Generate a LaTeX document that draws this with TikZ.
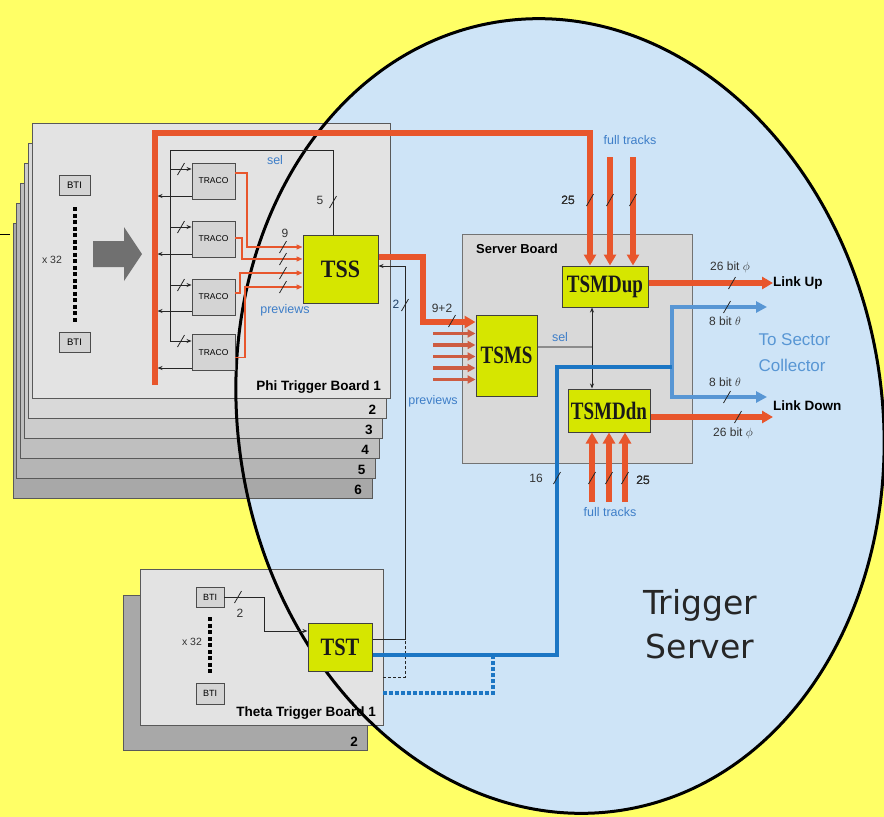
\documentclass[tikz,border=0pt]{standalone}
\usepackage{fontspec}
\setmainfont{Liberation Sans}
\newfontfamily\chipfont{Liberation Serif}
\newfontfamily\titlefont{DejaVu Sans}
\usetikzlibrary{arrows.meta,calc}
\definecolor{bgyellow}{RGB}{255,255,102}
\definecolor{srvblue}{RGB}{206,228,247}
\definecolor{trigred}{RGB}{232,86,44}
\definecolor{prevred}{RGB}{205,92,66}
\definecolor{thetablue}{RGB}{28,118,196}
\definecolor{linkblue}{RGB}{88,150,212}
\definecolor{lblblue}{RGB}{62,126,200}
\definecolor{chipgreen}{RGB}{214,230,0}
\definecolor{boardgray}{RGB}{227,227,227}
\tikzset{
  boardbox/.style={draw=black!65, line width=0.9pt},
  chip/.style={draw=black!75, line width=1pt, fill=chipgreen, inner sep=0pt, text=black!90,
    font=\chipfont\bfseries\fontsize{25}{25}\selectfont},
  minibox/.style={draw=black!70, line width=0.9pt, fill=black!17, inner sep=0pt,
    font=\fontsize{8.5}{8.5}\selectfont},
  redbus/.style={trigred, line width=5.5pt},
  redarrow/.style={redbus, -{Triangle[length=11pt,width=12pt]}},
  prevarrow/.style={trigred, line width=1.3pt, -{Triangle[length=6pt,width=5pt]}},
  prevthick/.style={prevred, line width=3.5pt, -{Triangle[length=8pt,width=8pt]}},
  sigline/.style={black!85, line width=0.9pt},
  sigarrow/.style={sigline, -{Stealth[length=5pt,width=4pt]}},
  bluebus/.style={thetablue, line width=4pt},
  bluearrow/.style={linkblue, line width=4pt, -{Triangle[length=11pt,width=11pt]}},
  numlbl/.style={text=black!80, font=\fontsize{12}{12}\selectfont, inner sep=0pt},
  bluelbl/.style={text=lblblue, font=\fontsize{12.5}{12.5}\selectfont, inner sep=0pt},
  boardlbl/.style={font=\bfseries\fontsize{13.5}{13.5}\selectfont, inner sep=0pt},
  btidots/.style={line width=4pt, dash pattern=on 4pt off 2.5pt},
}
\newcommand{\bwtick}[1]{\draw[black!85, line width=0.8pt] #1 ++(-3.5,6) -- ++(7,-12);}

\begin{document}
\begin{tikzpicture}[x=1pt,y=-1pt]
  \useasboundingbox (0,0) rectangle (884,817);
  \fill[bgyellow] (0,0) rectangle (884,817);
  \fill[srvblue, rotate around={9:(560,416)}] (560,416) ellipse [x radius=322, y radius=399];
  \draw[line width=0.8pt] (0,234) -- (10,234);

  % phi trigger boards
  \foreach \k/\shade in {6/34,5/29,4/25,3/20,2/15}{
    \draw[boardbox, fill=black!\shade] ({32-3.8*(\k-1)},{123+20*(\k-1)}) rectangle ({390-3.6*(\k-1)},{398+20*(\k-1)});
    \node[boardlbl, anchor=east] (phinum\k) at ({380-3.6*(\k-1)},{390+20*(\k-1)}) {\k};
  }
  \draw[boardbox, fill=boardgray] (32,123) rectangle (390,398);
  \node[boardlbl, anchor=east] (phiname) at (381,387) {Phi Trigger Board 1};

  % theta trigger boards
  \draw[boardbox, fill=black!34] (123,595) rectangle (367,750);
  \node[boardlbl, anchor=east] (thetanum2) at (358,742) {2};
  \draw[boardbox, fill=boardgray] (140,569) rectangle (383,725);
  \node[boardlbl, anchor=east] (thetaname) at (376,713) {Theta Trigger Board 1};

  \draw[line width=3pt, rotate around={9:(560,416)}] (560,416) ellipse [x radius=322, y radius=399];

  \node[draw=black!55, line width=0.9pt, fill=black!15, minimum width=230pt, minimum height=229pt] (server) at (577,348.5) {};
  \node[font=\bfseries\fontsize{13}{13}\selectfont, anchor=west, inner sep=0pt] (servername) at (476,249) {Server Board};

  % BTIs on the phi board
  \node[minibox, minimum width=31pt, minimum height=20pt, font=\fontsize{9.5}{9.5}\selectfont] (btiA) at (74.5,185) {BTI};
  \node[minibox, minimum width=31pt, minimum height=20pt, font=\fontsize{9.5}{9.5}\selectfont] (btiB) at (74.5,342) {BTI};
  \draw[btidots] ([yshift=-12pt]btiA.south) -- ([yshift=10pt]btiB.north);
  \node[numlbl, font=\fontsize{10.5}{10.5}\selectfont] (xA) at (52,260) {x 32};
  \fill[black!56] (93,241) -- (124,241) -- (124,227) -- (142,254) -- (124,281) -- (124,267) -- (93,267) -- cycle;

  \foreach \i/\yy in {1/181,2/239,3/297,4/352.5}
    \node[minibox, minimum width=43pt, minimum height=36pt] (traco\i) at (213.5,\yy) {TRACO};

  \node[chip, minimum width=75pt, minimum height=68pt] (tss) at (340.5,269) {\scalebox{0.88}[1]{TSS}};
  \node[chip, minimum width=61pt, minimum height=81pt] (tsms) at (506.5,355.5) {\scalebox{0.76}[1]{TSMS}};
  \node[chip, minimum width=86pt, minimum height=41pt] (tsmdup) at (605,286.5) {\scalebox{0.76}[1]{TSMDup}};
  \node[chip, minimum width=82pt, minimum height=43pt] (tsmddn) at (609,410.5) {\scalebox{0.76}[1]{TSMDdn}};

  % selection lines to the TRACOs
  \coordinate (selTop) at (170,150);
  \coordinate (selBot) at (170,341);
  \coordinate (busTop) at (155,133);
  \coordinate (busBot) at (155,385);
  \draw[sigline] ([xshift=-7.5pt]tss.north) |- (selTop) -- (selBot);
  \bwtick{(333,202)}
  \node[numlbl] (selwidth) at (320,200) {5};
  \node[bluelbl] (selA) at (275,160) {sel};
  \foreach \i/\ya/\yb in {1/169/196,2/227/254,3/285/311,4/341/368}{
    \draw[sigarrow] (selTop |- 0,\ya) -- (traco\i.west |- 0,\ya);
    \bwtick{(181,\ya)}
    \draw[sigarrow, shorten >=2.5pt] (traco\i.west |- 0,\yb) -- (busTop |- 0,\yb);
  }

  % previews to the TSS
  \foreach \i/\dy/\cx/\ty in {1/8/247/247,2/1/242/259,3/4/240/273,4/-5/245/287}{
    \draw[prevarrow] ([yshift=\dy pt]traco\i.east) -| (\cx,\ty) -- (tss.west |- 0,\ty);
    \bwtick{(283,\ty)}
  }
  \node[numlbl] (prevwidth) at (285,233) {9};
  \node[bluelbl] (prevA) at (285,310) {previews};

  % full tracks up
  \coordinate (ftUa) at (590,157);
  \coordinate (ftUb) at (610,157);
  \coordinate (ftUc) at (633,157);
  \draw[redarrow] (busBot) -- (busTop) -| (ftUa |- tsmdup.north);
  \draw[redarrow] (ftUb) -- (ftUb |- tsmdup.north);
  \draw[redarrow] (ftUc) -- (ftUc |- tsmdup.north);
  \foreach \xx in {590,610,633} \bwtick{(\xx,200)}
  \node[numlbl] (ftUwidth) at (568,200) {25};
  \node[bluelbl] (ftUname) at (630,140) {full tracks};

  % full tracks down
  \coordinate (ftDa) at (592,502);
  \coordinate (ftDb) at (609,502);
  \coordinate (ftDc) at (625,502);
  \draw[redarrow] (ftDa) -- (ftDa |- tsmddn.south);
  \draw[redarrow] (ftDb) -- (ftDb |- tsmddn.south);
  \draw[redarrow] (ftDc) -- (ftDc |- tsmddn.south);
  \foreach \xx in {592,609,625} \bwtick{(\xx,478)}
  \node[numlbl] (ftDwidth) at (643,480) {25};
  \node[bluelbl] (ftDname) at (610,512) {full tracks};

  % TSS to TSMS
  \coordinate (prevIn) at (433,0);
  \draw[redarrow] ([yshift=12pt]tss.east) -| (423,322) -- (tsms.west |- 0,322);
  \foreach \yy in {333.5,345,356.5,368,379.5}
    \draw[prevthick] (prevIn |- 0,\yy) -- (tsms.west |- 0,\yy);
  \bwtick{(452,321)}
  \node[numlbl] (tsswidth) at (442,308) {9+2};
  \node[bluelbl] (prevB) at (433,401) {previews};

  % sel inside the server board
  \coordinate (selEnd) at (593,347);
  \draw[black!45, line width=1.6pt] (tsms.east |- selEnd) -- (selEnd);
  \node[bluelbl] (selB) at (560,337) {sel};
  \draw[sigline, {Stealth[length=5pt,width=4pt]}-{Stealth[length=5pt,width=4pt]}] ([xshift=-13pt]tsmdup.south) -- ([xshift=-17pt]tsmddn.north);

  % outputs
  \node[boardlbl, anchor=west] (linkup) at (773,283) {Link Up};
  \node[boardlbl, anchor=west] (linkdn) at (773,406) {Link Down};
  \coordinate (dnR) at (773,417);
  \coordinate (upB) at (767,307);
  \coordinate (dnB) at (767,397);
  \draw[redarrow] (tsmdup.east |- linkup.west) -- (linkup.west);
  \draw[redarrow] (tsmddn.east |- dnR) -- (dnR);
  \bwtick{(732,283)}
  \bwtick{(738,417)}
  \node[numlbl] (phiUp) at (730,267) {26 bit $\phi$};
  \node[numlbl] (phiDn) at (733,433) {26 bit $\phi$};
  \node[text=linkblue, font=\fontsize{17}{26}\selectfont, align=left, anchor=west] (sector) at (755,353) {To Sector\\Collector};

  % theta board
  \node[minibox, minimum width=28pt, minimum height=20pt, font=\fontsize{9}{9}\selectfont] (btiC) at (210,597) {BTI};
  \node[minibox, minimum width=28pt, minimum height=21pt, font=\fontsize{9}{9}\selectfont] (btiD) at (210,693.5) {BTI};
  \draw[btidots] ([yshift=-10pt]btiC.south) -- ([yshift=8pt]btiD.north);
  \node[numlbl, font=\fontsize{10.5}{10.5}\selectfont] (xB) at (192,642) {x 32};
  \node[chip, minimum width=64pt, minimum height=48pt] (tst) at (340,647) {\scalebox{0.82}[1]{TST}};
  \draw[sigarrow] (btiC.east) -| (264,631) -- (tst.west |- 0,631);
  \bwtick{(238,597)}
  \node[numlbl] (btiwidth) at (240,613) {2};

  % theta back to TSS, and on to the sector collector
  \draw[sigarrow] ([yshift=8pt]tst.east) -| (405,266) -- ([yshift=3pt]tss.east);
  \bwtick{(405,305)}
  \node[numlbl, text=black!50!lblblue] (retwidth) at (396,304) {2};
  \coordinate (thDashA) at (383,677);
  \draw[sigline, dash pattern=on 3pt off 2pt] (thDashA) -| (405,641);

  \coordinate (split) at (672,367);
  \draw[bluearrow] (split) |- (upB);
  \draw[bluearrow] (split) |- (dnB);
  \draw[bluebus] ([yshift=-8pt]tst.east) -| (557,367) -- (split);
  \coordinate (thDashB) at (383,693);
  \draw[thetablue, line width=3.5pt, dash pattern=on 4pt off 2pt] (thDashB) -| (493,657);
  \bwtick{(557,478)}
  \node[numlbl] (thwidth) at (536,478) {16};
  \bwtick{(727,307)}
  \bwtick{(727,397)}
  \node[numlbl] (thUp) at (725,321) {8 bit $\theta$};
  \node[numlbl] (thDn) at (725,382) {8 bit $\theta$};

  \node[font=\titlefont\fontsize{33}{44}\selectfont, text=black!85, align=center] (tsname) at (700,624) {Trigger\\Server};
\end{tikzpicture}
\end{document}
